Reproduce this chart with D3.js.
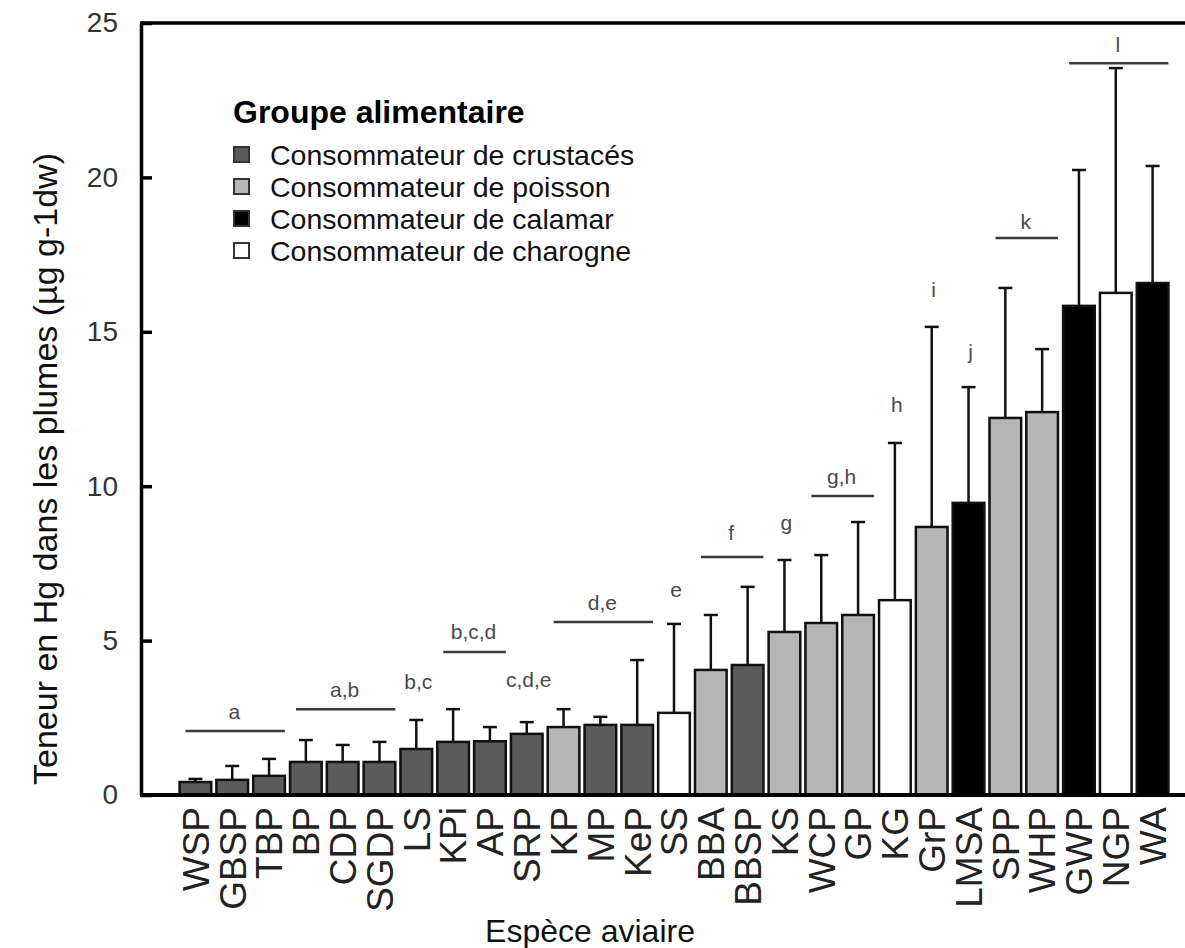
<!DOCTYPE html>
<html>
<head>
<meta charset="utf-8">
<script src="https://cdn.jsdelivr.net/npm/d3@7"></script>
<style>
  body { margin: 0; background: #fff; }
  svg { display: block; }
  text { font-family: "Liberation Sans", Arial, sans-serif; }
</style>
</head>
<body>
<svg id="chart"></svg>
<script>
// Species, mean Hg (µg/g dw) and upper SD
const species = ["WSP", "GBSP", "TBP", "BP", "CDP", "SGDP", "LS", "KPi", "AP", "SRP", "KP", "MP", "KeP", "SS",
  "BBA", "BBSP", "KS", "WCP", "GP", "KG", "GrP", "LMSA", "SPP", "WHP", "GWP", "NGP", "WA"];
const means = [0.42, 0.49, 0.62, 1.07, 1.07, 1.07, 1.49, 1.72, 1.74, 1.98, 2.2, 2.27, 2.27, 2.66,
  4.05, 4.21, 5.28, 5.57, 5.83, 6.31, 8.68, 9.46, 12.21, 12.4, 15.84, 16.26, 16.58];
const sds = [0.1, 0.45, 0.55, 0.71, 0.55, 0.65, 0.94, 1.06, 0.46, 0.38, 0.58, 0.26, 2.1, 2.88,
  1.78, 2.53, 2.33, 2.2, 3.01, 5.09, 6.48, 3.75, 4.21, 2.04, 4.4, 7.28, 3.79];
// 0 = crustacés, 1 = poisson, 2 = calamar, 3 = charogne
const groups = [0, 0, 0, 0, 0, 0, 0, 0, 0, 0, 1, 0, 0, 3,
  1, 0, 1, 1, 1, 3, 1, 2, 1, 1, 2, 3, 2];
const groupNames = ["Consommateur de crustacés", "Consommateur de poisson", "Consommateur de calamar", "Consommateur de charogne"];
const groupColors = ["#5b5b5b", "#b6b6b6", "#000000", "#ffffff"];
const yTicks = [0, 5, 10, 15, 20, 25];

// Significance letters: text, first species, last species, line level, text level
const letterText = ["a", "a,b", "b,c", "b,c,d", "c,d,e", "d,e", "e", "f", "g", "g,h", "h", "i", "j", "k", "l"];
const letterFrom = ["WSP", "BP", "LS", "KPi", "SRP", "KP", "SS", "BBA", "KS", "WCP", "KG", "GrP", "LMSA", "SPP", "GWP"];
const letterTo = ["TBP", "SGDP", "LS", "AP", "SRP", "KeP", "SS", "BBSP", "KS", "GP", "KG", "GrP", "LMSA", "WHP", "WA"];
const letterLine = [2.07, 2.78, null, 4.63, null, 5.6, null, 7.71, null, 9.68, null, null, null, 18.04, 23.7];
const letterLevel = [2.69, 3.4, 3.66, 5.28, 3.72, 6.22, 6.64, 8.48, 8.81, 10.3, 12.63, 16.35, 14.35, 18.56, 24.29];

const width = 1185;
const height = 948;
const marginLeft = 141;

const svg = d3.select("#chart")
  .attr("width", width)
  .attr("height", height)
  .attr("viewBox", [0, 0, width, height]);

const x = d3.scaleBand(species, [177, 1171]).paddingInner(0.14).paddingOuter(0.07);
const y = d3.scaleLinear([0, 25], [795, 23]);

// bars
svg.append("g")
  .selectAll("rect")
  .data(species)
  .join("rect")
    .attr("x", d => x(d))
    .attr("y", (d, i) => y(means[i]))
    .attr("width", x.bandwidth())
    .attr("height", (d, i) => y(0) - y(means[i]))
    .attr("fill", (d, i) => groupColors[groups[i]])
    .attr("stroke", "#111")
    .attr("stroke-width", 2.5);

// upper error bars
const err = svg.append("g").attr("stroke", "#111").attr("stroke-width", 2.5);
species.forEach((s, i) => {
  const cx = x(s) + x.bandwidth() / 2;
  err.append("line")
    .attr("x1", cx).attr("x2", cx)
    .attr("y1", y(means[i])).attr("y2", y(means[i] + sds[i]));
  err.append("line")
    .attr("x1", cx - 7).attr("x2", cx + 7)
    .attr("y1", y(means[i] + sds[i])).attr("y2", y(means[i] + sds[i]));
});

// y axis
svg.append("g")
  .attr("transform", `translate(${marginLeft},0)`)
  .call(d3.axisLeft(y).tickValues(yTicks).tickSizeInner(-11).tickSizeOuter(0).tickPadding(23))
  .call(g => g.selectAll("line, path").attr("stroke", "#000").attr("stroke-width", 3.5))
  .call(g => g.selectAll("text")
    .attr("font-size", 28)
    .attr("fill", "#333")
    .attr("font-family", "Liberation Sans, Arial, sans-serif"));

// bottom axis line and top frame
svg.append("line")
  .attr("x1", marginLeft - 1).attr("x2", width)
  .attr("y1", y(0)).attr("y2", y(0))
  .attr("stroke", "#000").attr("stroke-width", 4);
svg.append("line")
  .attr("x1", marginLeft - 1).attr("x2", width)
  .attr("y1", y(25)).attr("y2", y(25))
  .attr("stroke", "#000").attr("stroke-width", 3.5);

// x labels
svg.append("g")
  .selectAll("text")
  .data(species)
  .join("text")
    .attr("transform", d => `translate(${x(d) + x.bandwidth() / 2},${y(0) + 12}) rotate(-90)`)
    .attr("text-anchor", "end")
    .attr("dy", "0.36em")
    .attr("font-size", 37)
    .attr("fill", "#222")
    .text(d => d);

// significance letters
const sig = svg.append("g").attr("fill", "#4a4a4a");
letterText.forEach((t, i) => {
  const x0 = x(letterFrom[i]);
  const x1 = x(letterTo[i]) + x.bandwidth();
  if (letterLine[i] !== null) {
    sig.append("line")
      .attr("x1", x0 + 6).attr("x2", x1)
      .attr("y1", y(letterLine[i])).attr("y2", y(letterLine[i]))
      .attr("stroke", "#3a3a3a").attr("stroke-width", 2.5);
  }
  sig.append("text")
    .attr("x", (x0 + x1) / 2 + 2)
    .attr("y", y(letterLevel[i]))
    .attr("dy", "0.35em")
    .attr("text-anchor", "middle")
    .attr("font-family", "Open Sans, sans-serif")
    .attr("font-size", 21)
    .text(t);
});

// legend
const legend = svg.append("g").attr("transform", "translate(233,112)");
legend.append("text")
  .attr("y", 0)
  .attr("dy", "0.35em")
  .attr("font-size", 32)
  .attr("font-weight", "bold")
  .text("Groupe alimentaire");
groupNames.forEach((name, i) => {
  const row = legend.append("g").attr("transform", `translate(0,${43 + i * 32})`);
  row.append("rect")
    .attr("x", 1).attr("y", -8)
    .attr("width", 15).attr("height", 15)
    .attr("fill", groupColors[i])
    .attr("stroke", "#333")
    .attr("stroke-width", 2);
  row.append("text")
    .attr("x", 37)
    .attr("dy", "0.35em")
    .attr("font-size", 28.5)
    .attr("fill", "#111")
    .text(name);
});

// axis titles
svg.append("text")
  .attr("transform", `translate(45,${(148 + 790) / 2}) rotate(-90)`)
  .attr("text-anchor", "middle")
  .attr("dy", "0.35em")
  .attr("font-size", 34)
  .attr("fill", "#111")
  .text("Teneur en Hg dans les plumes (µg g-1dw)");

svg.append("text")
  .attr("x", 590)
  .attr("y", 942)
  .attr("text-anchor", "middle")
  .attr("font-size", 32)
  .attr("fill", "#111")
  .text("Espèce aviaire");
</script>
</body>
</html>
